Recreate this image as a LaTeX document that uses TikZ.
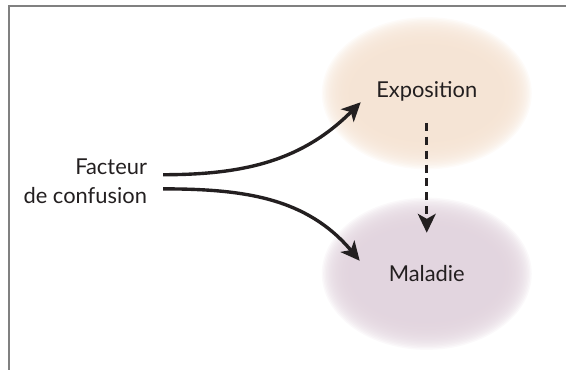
\documentclass[tikz,border=0pt]{standalone}
\usepackage{fontspec}
\setmainfont{Lato}
\usetikzlibrary{arrows.meta}

\definecolor{peach}{RGB}{245,227,211}
\definecolor{lilac}{RGB}{225,211,221}
\definecolor{framegray}{RGB}{128,128,128}
\definecolor{ink}{RGB}{35,31,32}

\begin{document}
\begin{tikzpicture}[>={Stealth[length=9.5pt,width=9pt,inset=2.5pt]}, font=\fontsize{11}{14.5}\selectfont, text=ink]

\useasboundingbox (0,0) rectangle (10,6.537);

\draw[color=framegray, line width=1pt] (0.16,0)--(0.16,6.43)--(10,6.43);

% soft clouds
\foreach \k [evaluate=\k as \rx using 1.88-0.025*\k, evaluate=\k as \ry using 1.37-0.025*\k] in {1,...,20}{
	\fill[color=peach, opacity=0.14] (7.54,4.89) ellipse[x radius=\rx, y radius=\ry];
	\fill[color=lilac, opacity=0.14] (7.54,1.70) ellipse[x radius=\rx, y radius=\ry];
}

\node (expo) at (7.54,4.93) {Exposition};
\node (mal) at (7.54,1.70) {Maladie};
\node (fact) at (2.72,3.34) [left, align=right] {Facteur\\de confusion};

\draw[->, color=ink, line width=1.7pt] ([shift={(0.16,0.11)}]fact.east) to[out=0, in=-135] ([shift={(-0.15,0.1)}]expo.south west);
\draw[->, color=ink, line width=1.7pt] ([shift={(0.16,-0.14)}]fact.east) to[out=0, in=130] ([shift={(-0.39,0.23)}]mal.west);

\draw[->, color=ink, line width=1.4pt, dash pattern=on 4pt off 3pt, shorten <=7.5pt, shorten >=13pt] (expo)--(mal);

\end{tikzpicture}
\end{document}
